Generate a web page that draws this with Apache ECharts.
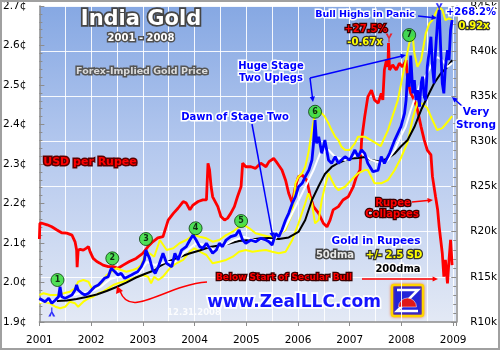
<!DOCTYPE html>
<html><head><meta charset="utf-8">
<script src="https://cdn.jsdelivr.net/npm/echarts@6/dist/echarts.min.js"></script>
<style>html,body{margin:0;padding:0;background:#fff}#c{width:500px;height:350px}</style>
</head><body><div id="c"></div>
<script>
// ---------------- DATA ----------------
const yearLabels = ['2001','2002','2003','2004','2005','2006','2007','2008','2009'];

// USD per Rupee (cents), left axis
const usdPerRupee = [
[2001.00,2.11],[2001.01,2.15],[2001.05,2.150],[2001.15,2.146],[2001.24,2.141],[2001.34,2.133],[2001.43,2.126],[2001.53,2.125],
[2001.63,2.120],[2001.69,2.103],[2001.72,2.082],[2001.73,2.039],[2001.75,2.082],[2001.79,2.084],[2001.85,2.082],[2001.91,2.087],
[2001.95,2.091],[2001.98,2.078],[2002.04,2.061],[2002.11,2.053],[2002.17,2.049],[2002.23,2.044],[2002.33,2.040],[2002.43,2.040],
[2002.52,2.036],[2002.62,2.044],[2002.74,2.053],[2002.87,2.061],[2003.00,2.074],[2003.10,2.091],[2003.19,2.103],[2003.29,2.113],
[2003.39,2.116],[2003.49,2.158],[2003.59,2.175],[2003.68,2.188],[2003.78,2.205],[2003.84,2.201],[2003.91,2.184],[2003.97,2.196],
[2004.07,2.205],[2004.16,2.209],[2004.23,2.209],[2004.26,2.302],[2004.29,2.285],[2004.32,2.243],[2004.35,2.217],[2004.45,2.192],
[2004.51,2.167],[2004.58,2.158],[2004.64,2.163],[2004.70,2.175],[2004.77,2.192],[2004.83,2.217],[2004.90,2.243],[2004.93,2.302],
[2004.99,2.293],[2005.09,2.293],[2005.18,2.289],[2005.28,2.302],[2005.38,2.293],[2005.44,2.306],[2005.53,2.314],[2005.60,2.302],
[2005.69,2.285],[2005.76,2.259],[2005.82,2.226],[2005.89,2.201],[2005.95,2.243],[2006.01,2.268],[2006.08,2.272],[2006.17,2.259],
[2006.24,2.217],[2006.30,2.192],[2006.40,2.175],[2006.49,2.150],[2006.56,2.141],[2006.62,2.158],[2006.68,2.184],[2006.78,2.192],
[2006.87,2.209],[2006.97,2.217],[2007.07,2.243],[2007.13,2.268],[2007.20,2.285],[2007.23,2.361],[2007.29,2.420],[2007.35,2.470],
[2007.42,2.487],[2007.48,2.462],[2007.55,2.454],[2007.61,2.479],[2007.64,2.462],[2007.67,2.538],[2007.71,2.563],[2007.74,2.546],
[2007.75,2.606],[2007.77,2.538],[2007.83,2.551],[2007.90,2.538],[2007.96,2.555],[2008.02,2.546],[2008.09,2.563],[2008.12,2.513],
[2008.18,2.479],[2008.25,2.462],[2008.31,2.437],[2008.38,2.394],[2008.44,2.361],[2008.50,2.335],[2008.57,2.323],[2008.60,2.268],
[2008.66,2.217],[2008.70,2.184],[2008.73,2.141],[2008.79,2.074],[2008.82,2.015],[2008.85,2.057],[2008.89,1.998],[2008.92,2.057],
[2008.95,2.108],[2008.98,2.044]
];

// Gold in Rupees (thousands), right axis
const goldInRupees = [
[2001.00,12.62],[2001.05,12.44],[2001.11,12.25],[2001.18,12.62],[2001.24,12.07],[2001.31,12.44],[2001.37,12.80],[2001.40,13.91],
[2001.43,12.80],[2001.50,12.62],[2001.56,12.80],[2001.63,12.99],[2001.69,13.54],[2001.72,14.10],[2001.75,13.54],[2001.82,13.18],
[2001.88,12.99],[2001.95,13.18],[2002.01,13.54],[2002.07,13.91],[2002.14,14.10],[2002.20,14.46],[2002.26,14.84],[2002.33,15.02],
[2002.39,15.95],[2002.46,15.57],[2002.52,15.20],[2002.58,15.39],[2002.65,14.84],[2002.71,15.02],[2002.78,15.20],[2002.84,15.39],
[2002.90,15.57],[2002.97,16.12],[2003.03,16.87],[2003.06,17.97],[2003.13,17.05],[2003.19,15.76],[2003.24,15.39],[2003.30,16.12],
[2003.39,17.61],[2003.46,16.50],[2003.56,16.12],[2003.62,17.61],[2003.68,16.87],[2003.75,17.97],[2003.84,18.34],[2003.91,19.08],
[2003.97,19.63],[2004.03,19.08],[2004.10,18.34],[2004.16,18.16],[2004.23,18.72],[2004.29,18.16],[2004.35,17.61],[2004.42,17.97],
[2004.48,18.72],[2004.54,18.34],[2004.61,19.08],[2004.70,19.45],[2004.80,19.63],[2004.86,20.19],[2004.93,19.08],[2004.99,18.72],
[2005.09,19.08],[2005.18,18.89],[2005.28,19.27],[2005.38,19.08],[2005.44,18.89],[2005.50,18.53],[2005.57,19.82],[2005.63,19.45],
[2005.69,20.19],[2005.76,21.30],[2005.82,22.04],[2005.89,23.15],[2005.95,23.88],[2006.01,24.98],[2006.08,25.36],[2006.14,26.09],
[2006.21,26.83],[2006.27,27.94],[2006.30,29.79],[2006.33,32.37],[2006.36,29.79],[2006.40,30.52],[2006.46,28.68],[2006.52,30.15],
[2006.59,27.94],[2006.65,27.57],[2006.72,28.31],[2006.78,27.57],[2006.84,27.94],[2006.91,28.31],[2007.00,27.94],[2007.10,29.05],
[2007.16,28.31],[2007.23,29.05],[2007.29,28.68],[2007.35,27.57],[2007.45,26.64],[2007.55,26.83],[2007.61,28.31],[2007.67,27.57],
[2007.77,28.68],[2007.87,30.15],[2007.93,30.90],[2007.99,31.63],[2008.06,33.11],[2008.09,34.58],[2008.12,37.54],[2008.15,36.06],
[2008.18,39.50],[2008.22,35.33],[2008.25,36.80],[2008.28,34.58],[2008.31,35.69],[2008.35,33.84],[2008.38,36.43],[2008.41,37.17],
[2008.44,34.95],[2008.47,34.58],[2008.50,38.27],[2008.54,40.12],[2008.57,41.59],[2008.60,38.27],[2008.63,36.43],[2008.66,40.12],
[2008.70,43.44],[2008.73,44.55],[2008.76,40.12],[2008.79,36.43],[2008.82,35.33],[2008.85,38.27],[2008.89,40.12],[2008.92,39.01],
[2008.95,42.34],[2008.98,43.44]
];

// 50-day moving average (thousands)
const dma50 = [
[2001.00,12.21],[2001.22,12.33],[2001.42,12.66],[2001.61,12.88],[2001.80,13.21],[2001.99,13.32],[2002.18,13.88],[2002.37,14.76],
[2002.57,15.09],[2002.76,15.09],[2002.95,15.54],[2003.08,16.64],[2003.24,16.31],[2003.43,16.64],[2003.62,16.64],[2003.81,17.75],
[2004.04,18.75],[2004.19,18.53],[2004.39,17.97],[2004.58,18.53],[2004.77,19.08],[2004.96,19.41],[2005.15,19.08],[2005.34,19.08],
[2005.53,19.08],[2005.73,20.19],[2005.92,22.40],[2006.11,24.62],[2006.30,26.83],[2006.43,28.72],[2006.59,29.05],[2006.72,28.27],
[2006.91,27.94],[2007.03,28.27],[2007.22,28.72],[2007.41,27.94],[2007.60,27.61],[2007.74,27.94],[2007.87,29.05],[2007.99,30.60],
[2008.08,31.60],[2008.18,33.48],[2008.27,34.92],[2008.37,36.47],[2008.50,37.57],[2008.60,38.68],[2008.69,39.35],[2008.79,39.01],
[2008.89,38.24],[2008.98,38.68]
];

// 50dma + 2.5 SD band (thousands)
const bandUpper = [
[2001.00,12.99],[2001.08,13.18],[2001.21,12.99],[2001.34,12.99],[2001.47,13.18],[2001.59,13.36],[2001.69,13.73],[2001.75,14.46],
[2001.85,14.65],[2001.95,14.46],[2002.01,13.73],[2002.11,13.91],[2002.20,14.29],[2002.30,15.20],[2002.39,15.57],[2002.49,15.95],
[2002.58,15.76],[2002.68,15.57],[2002.81,15.76],[2002.90,15.95],[2002.97,16.31],[2003.06,17.79],[2003.13,17.61],[2003.22,17.23],
[2003.33,19.08],[2003.46,17.97],[2003.59,18.16],[2003.71,18.72],[2003.84,19.08],[2003.94,19.45],[2004.00,19.63],[2004.10,19.45],
[2004.23,19.27],[2004.35,18.89],[2004.48,19.08],[2004.61,19.63],[2004.74,20.00],[2004.86,20.55],[2004.96,20.74],[2005.06,20.38],
[2005.18,19.82],[2005.31,19.63],[2005.44,19.45],[2005.63,19.63],[2005.76,20.19],[2005.89,22.04],[2005.95,25.36],[2006.01,26.09],
[2006.08,26.47],[2006.14,27.20],[2006.20,28.68],[2006.27,31.26],[2006.33,33.11],[2006.40,33.48],[2006.46,33.11],[2006.52,32.74],
[2006.59,32.00],[2006.65,31.26],[2006.72,30.52],[2006.78,30.15],[2006.84,29.41],[2006.91,29.05],[2007.00,29.05],[2007.10,29.79],
[2007.16,30.52],[2007.29,30.52],[2007.41,30.15],[2007.60,29.49],[2007.74,31.26],[2007.93,34.58],[2008.06,38.27],[2008.15,40.86],
[2008.22,41.59],[2008.25,39.76],[2008.31,38.27],[2008.38,39.01],[2008.47,41.97],[2008.54,43.08],[2008.60,43.44],[2008.66,44.19],
[2008.73,44.92],[2008.79,44.55],[2008.85,43.44],[2008.92,43.63],[2008.98,43.44]
];

// 50dma - 2.5 SD band (thousands)
const bandLower = [
[2001.00,12.07],[2001.08,12.25],[2001.21,12.07],[2001.31,11.69],[2001.40,11.52],[2001.50,11.69],[2001.59,12.25],[2001.69,12.07],
[2001.75,11.69],[2001.85,12.25],[2001.95,12.62],[2002.04,12.80],[2002.14,13.18],[2002.23,13.36],[2002.33,13.73],[2002.43,14.10],
[2002.52,14.29],[2002.62,14.46],[2002.71,14.65],[2002.81,14.84],[2002.90,15.02],[2003.00,15.20],[2003.10,15.02],[2003.16,14.29],
[2003.22,15.02],[2003.30,14.65],[2003.39,15.02],[2003.52,15.95],[2003.65,16.50],[2003.78,16.87],[2003.91,17.79],[2004.00,18.16],
[2004.10,17.79],[2004.23,17.42],[2004.35,16.50],[2004.48,16.68],[2004.61,16.87],[2004.74,17.23],[2004.86,17.79],[2004.99,17.97],
[2005.12,17.79],[2005.25,17.88],[2005.38,17.97],[2005.50,17.79],[2005.63,17.61],[2005.76,17.79],[2005.89,19.08],[2006.01,20.93],
[2006.14,23.15],[2006.20,24.25],[2006.27,23.15],[2006.33,20.93],[2006.40,21.30],[2006.46,23.51],[2006.52,24.98],[2006.59,26.47],
[2006.65,25.73],[2006.72,24.98],[2006.78,24.62],[2006.91,24.98],[2007.03,25.73],[2007.16,26.47],[2007.29,26.83],[2007.35,26.83],
[2007.48,25.36],[2007.61,25.36],[2007.74,25.73],[2007.87,26.83],[2007.99,28.16],[2008.12,29.93],[2008.22,32.59],[2008.31,34.36],
[2008.41,34.14],[2008.50,33.70],[2008.60,32.37],[2008.69,31.26],[2008.79,31.48],[2008.89,32.15],[2008.98,32.81]
];

// 200-day moving average (thousands)
const dma200 = [
[2001.34,12.33],[2001.53,12.38],[2001.72,12.55],[2001.91,12.77],[2002.11,13.05],[2002.30,13.43],[2002.49,13.88],[2002.68,14.37],
[2002.87,14.93],[2003.06,15.37],[2003.24,15.76],[2003.33,16.20],[2003.52,16.76],[2003.71,17.20],[2003.90,17.59],[2004.10,17.92],
[2004.29,18.31],[2004.48,18.47],[2004.67,18.69],[2004.86,18.97],[2005.05,19.08],[2005.24,19.25],[2005.43,19.30],[2005.63,19.19],
[2005.82,19.36],[2006.01,19.97],[2006.14,21.30],[2006.27,23.51],[2006.40,25.06],[2006.52,26.39],[2006.65,27.17],[2006.78,27.61],
[2006.91,27.94],[2007.03,28.11],[2007.16,28.16],[2007.29,28.27],[2007.41,27.94],[2007.58,27.77],[2007.74,28.11],[2007.87,28.66],
[2007.99,29.44],[2008.12,30.16],[2008.25,31.59],[2008.38,33.48],[2008.50,34.92],[2008.63,36.41],[2008.76,37.52],[2008.89,38.24],
[2008.98,39.01]
];

// Numbered stage markers: [year, R thousands, label]
const stageMarkers = [
[2001.35,14.65,'1'],[2002.41,17.05,'2'],[2003.06,19.19,'3'],[2004.02,20.38,'4'],
[2004.90,21.18,'5'],[2006.33,33.29,'6'],[2008.15,41.78,'7']
];
// Peak / trough pointers
const rupeePeakMark = [[2007.76,2.619]];
const goldPeakMark = [[2008.73,44.8]];
const goldLowMark = [[2001.24,11.1]];

// ---------------- CHART ----------------
const chart = echarts.init(document.getElementById('c'), null, {renderer:'canvas'});
const FONT = '"DejaVu Sans", Verdana, sans-serif';
const axisGray = '#8c8c8c';

function T(x, y, text, size, fill, stroke, lw, shadow) {
  const st = {text:text, font:'bold '+size+'px '+FONT, fill:fill, stroke:stroke, lineWidth:lw||0,
      align:'center', verticalAlign:'middle'};
  if (shadow) { st.shadowColor='rgba(0,0,0,0.5)'; st.shadowBlur=2; st.shadowOffsetX=1; st.shadowOffsetY=1; }
  return {type:'text', x:x, y:y, z:200, silent:true, style:st};
}
function arrow(x1,y1,x2,y2,color,w){
  const a = Math.atan2(y2-y1, x2-x1), L = 6, s = 0.45;
  return [
    {type:'line', z:190, silent:true, shape:{x1:x1,y1:y1,x2:x2-Math.cos(a)*3,y2:y2-Math.sin(a)*3}, style:{stroke:color, lineWidth:w||1.5}},
    {type:'polygon', z:190, silent:true, shape:{points:[[x2,y2],[x2-L*Math.cos(a-s),y2-L*Math.sin(a-s)],[x2-L*Math.cos(a+s),y2-L*Math.sin(a+s)]]}, style:{fill:color}}
  ];
}
const blue = '#0000ff', red = '#ff0000', yel = '#ffff00';

const graphics = [].concat(
  [
    T(141,20,'India Gold',21,'#ffffff','#454545',3.5,true),
    T(141,38,'2001 - 2008',10,'#ffffff','#505050',3),
    T(142,72,'Forex-Implied Gold Price',9.5,'#dcdcdc','#555555',3),
    T(90,162,'USD per Rupee',11,red,'#5a0000',3),
    T(235,117,'Dawn of Stage Two',10,blue,'#ffffff',3),
    T(271,66,'Huge Stage',10,blue,'#ffffff',3),
    T(271,78,'Two Uplegs',10,blue,'#ffffff',3),
    T(365,15,'Bull Highs in Panic',9.5,blue,'#ffffff',3),
    T(366,29,'+27.5%',10,red,'#3a0000',2.5),
    T(365,42,'-0.67x',10,yel,'#333333',2.5),
    T(471,12,'+268.2%',10,blue,'#ffffff',3),
    T(474,26,'0.92x',10,yel,'#333333',2.5),
    T(476,112,'Very',10.5,blue,'#ffffff',3),
    T(476,125,'Strong',10.5,blue,'#ffffff',3),
    T(393,203,'Rupee',10,red,'#3a0000',2.5),
    T(392,214,'Collapses',10,red,'#3a0000',2.5),
    T(376,241,'Gold in Rupees',10.5,blue,'#ffffff',3),
    T(335,255,'50dma',10,'#e8e8e8','#444444',3),
    T(394,255,'+/- 2.5 SD',10,yel,'#333333',2.5),
    T(398,269,'200dma',10,'#000000','#ffffff',3),
    T(284,278,'Below Start of Secular Bull',9,red,'#3a0000',2.5),
    T(294,303,'www.ZealLLC.com',17,'#1414ff','#ffffff',3.5),
    T(194,313,'12.31.2008',8.5,'rgba(255,255,255,0.85)',null,0),
    {type:'bezierCurve', z:190, silent:true, shape:{x1:207,y1:282,cpx1:165,cpy1:285,cpx2:130,cpy2:320,x2:120,y2:291}, style:{stroke:red,lineWidth:1.5,fill:null}},
    {type:'polygon', z:190, silent:true, shape:{points:[[117,286],[116,294],[123,291]]}, style:{fill:red}},
    {type:'group', x:392, y:285, z:195, children:[
      {type:'rect', shape:{x:0,y:0,width:31,height:31,r:2}, style:{fill:'#2424d8',stroke:'#ffd400',lineWidth:2.5,shadowColor:'rgba(255,80,0,0.6)',shadowBlur:3}},
      {type:'polyline', shape:{points:[[5,5],[26,5],[5,26],[26,26]]}, style:{stroke:'#ffffff',lineWidth:2.5,fill:null}},
      {type:'sector', shape:{cx:15.5,cy:22,r0:0,r:9,startAngle:Math.PI,endAngle:Math.PI*2}, style:{fill:'#e01818',stroke:'#ffffff',lineWidth:0.5}}
    ]},
    {type:'rect', z:300, silent:true, shape:{x:1,y:1,width:498,height:348}, style:{fill:null,stroke:'#a0a0a0',lineWidth:2}}
  ],
  arrow(252,124,273,238,blue,1.5),
  arrow(310,78,406,55,blue,1.5),
  arrow(310,78,313,102,blue,1.5),
  arrow(418,16,437,18,blue,1.5),
  arrow(462,106,452,97,blue,1.5),
  arrow(412,202,433,200,red,1.5),
  arrow(362,279,438,279,red,1.5)
);

const ySym = 'path://M0,0 L4,0 L6,5 L8,0 L12,0 L7,8 L7,14 L5,14 L5,8 Z';
function lineSeries(name, data, yIdx, color, width, z){
  return {name:name, type:'line', data:data, xAxisIndex:0, yAxisIndex:yIdx, showSymbol:false, symbol:'none',
    lineStyle:{color:color, width:width}, itemStyle:{color:color}, z:z, silent:true, animation:false};
}

const option = {
  animation:false,
  backgroundColor:'#ffffff',
  grid:{left:38, right:41, top:6, bottom:28, show:true, borderWidth:0,
    backgroundColor:new echarts.graphic.LinearGradient(0,0,0,1,[
      {offset:0,color:'#86a8e3'},{offset:0.45,color:'#b4c8ee'},{offset:1,color:'#e3e9f5'}])},
  xAxis:[
    {type:'value', min:2001, max:2009.06, interval:1, position:'bottom',
      axisLine:{show:true,lineStyle:{color:axisGray,width:1.5}},
      axisTick:{show:true,length:4,lineStyle:{color:axisGray}},
      axisLabel:{color:'#000',fontFamily:FONT,fontSize:10.5,margin:13,
        formatter:function(v){const r=Math.round(v); return Math.abs(v-r)<1e-6 ? yearLabels[r-2001] : '';}},
      splitLine:{show:false}},
    {type:'value', min:2001, max:2009.06, interval:0.5, position:'bottom',
      axisLine:{show:false}, axisTick:{show:false}, axisLabel:{show:false},
      splitLine:{show:true,lineStyle:{color:'rgba(255,255,255,0.9)',width:1}}}
  ],
  yAxis:[
    {type:'value', position:'left', min:1.9, max:2.7, interval:0.1,
      axisLine:{show:true,lineStyle:{color:axisGray,width:1.5}},
      axisTick:{show:true,inside:true,length:5,lineStyle:{color:axisGray}},
      minorTick:{show:true,splitNumber:5,length:3,lineStyle:{color:axisGray}},
      axisLabel:{color:'#000',fontFamily:FONT,fontSize:10.5,margin:13,
        formatter:function(v){return v.toFixed(1)+'¢';}},
      splitLine:{show:false}},
    {type:'value', position:'right', min:10, max:45, interval:5,
      axisLine:{show:true,lineStyle:{color:axisGray,width:1.5}},
      axisTick:{show:true,inside:true,length:5,lineStyle:{color:axisGray}},
      minorTick:{show:true,splitNumber:5,length:3,lineStyle:{color:axisGray}},
      axisLabel:{color:'#000',fontFamily:FONT,fontSize:10.5,margin:14,
        formatter:function(v){return 'R'+v+'k';}},
      splitLine:{show:true,lineStyle:{color:'rgba(255,255,255,0.9)',width:1}}}
  ],
  series:[
    lineSeries('USD per Rupee', usdPerRupee, 0, red, 2.8, 2),
    lineSeries('+2.5 SD', bandUpper, 1, yel, 2, 3),
    lineSeries('-2.5 SD', bandLower, 1, yel, 2, 3),
    lineSeries('200dma', dma200, 1, '#000000', 2, 4),
    lineSeries('50dma', dma50, 1, '#ffffff', 2, 5),
    lineSeries('Gold in Rupees', goldInRupees, 1, blue, 2.8, 6),
    {type:'scatter', data:stageMarkers, xAxisIndex:0, yAxisIndex:1, symbol:'circle', symbolSize:13, z:10, clip:false, silent:true,
      itemStyle:{color:'#2ee02e', borderColor:'#0b3d0b', borderWidth:1},
      label:{show:true, position:'inside', formatter:function(p){return p.value[2];}, color:'#000', fontSize:8, fontWeight:'bold', fontFamily:FONT}},
    {type:'scatter', data:rupeePeakMark, xAxisIndex:0, yAxisIndex:0, symbol:ySym, symbolSize:[7,9], z:10, clip:false, silent:true, itemStyle:{color:red}},
    {type:'scatter', data:goldPeakMark, xAxisIndex:0, yAxisIndex:1, symbol:ySym, symbolSize:[7,9], z:10, clip:false, silent:true, itemStyle:{color:blue}},
    {type:'scatter', data:goldLowMark, xAxisIndex:0, yAxisIndex:1, symbol:ySym, symbolRotate:180, symbolSize:[7,9], z:10, clip:false, silent:true, itemStyle:{color:blue}}
  ],
  graphic:graphics
};
chart.setOption(option);
</script></body></html>
